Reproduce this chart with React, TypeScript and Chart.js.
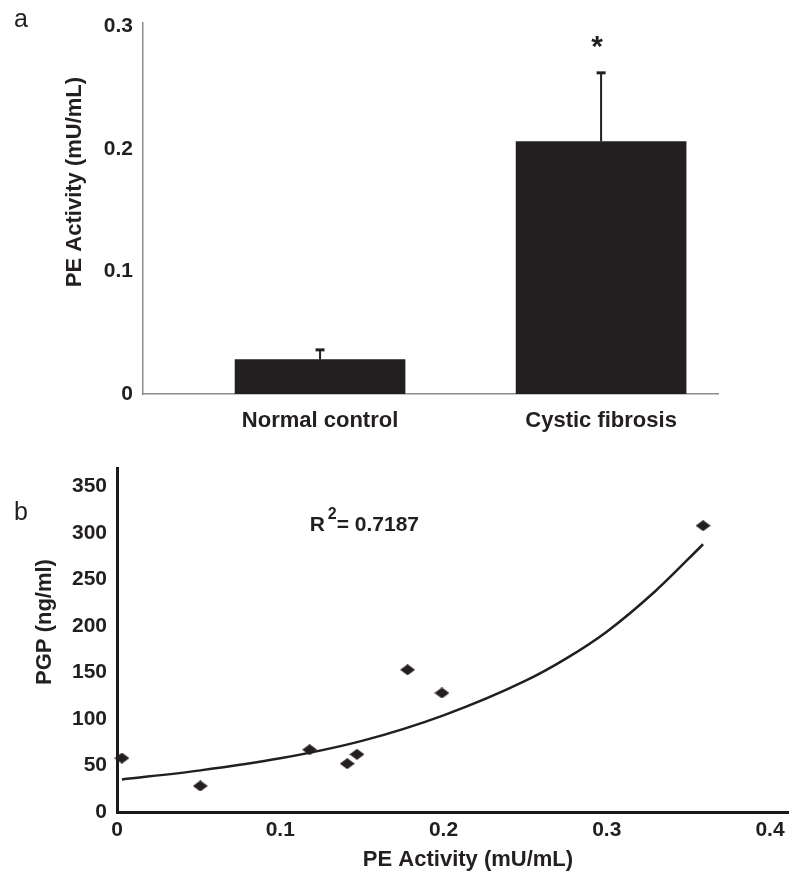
import React, { useEffect, useRef } from "react";
import { Chart, registerables } from "chart.js";

Chart.register(...registerables);

// ---------- Panel a: PE activity by group ----------
const groups = ["Normal control", "Cystic fibrosis"];
const peActivity = [0.028, 0.206];
const peError = [0.008, 0.056];
const significance = ["", "*"];
const yTicksA = [0, 0.1, 0.2, 0.3];

// ---------- Panel b: PGP vs PE activity ----------
const peValues = [0.003, 0.051, 0.118, 0.141, 0.147, 0.178, 0.199, 0.359];
const pgpValues = [58, 28, 67, 52, 62, 153, 128, 308];
const trendPe = [0.003, 0.05, 0.1, 0.15, 0.2, 0.25, 0.275, 0.3, 0.33, 0.359];
const trendPgp = [35, 44.5, 57.7, 76.5, 104, 141, 165, 194, 238, 288];
const rSquared = "0.7187";
const rSquaredAnchor = [0.118, 302.6];
const yTicksB = [0, 50, 100, 150, 200, 250, 300, 350];
const xTicksB = [0, 0.1, 0.2, 0.3, 0.4];

const INK = "#231f20";
const FONT = "'Liberation Sans', Arial, Helvetica, sans-serif";

const freeTextPlugin = {
  id: "freeText",
  afterDraw(chart: any, _args: any, opts: any) {
    const ctx = chart.ctx;
    (opts.items || []).forEach((it: any) => {
      ctx.save();
      ctx.translate(it.x, it.y);
      if (it.rotate) ctx.rotate(it.rotate);
      ctx.font = it.font;
      ctx.fillStyle = INK;
      ctx.textAlign = it.align || "center";
      ctx.textBaseline = it.baseline || "middle";
      ctx.fillText(it.text, 0, 0);
      ctx.restore();
    });
  },
};

const errorBarPlugin = {
  id: "errorBars",
  afterDatasetsDraw(chart: any) {
    const meta = chart.getDatasetMeta(0);
    const y = chart.scales.y;
    const ctx = chart.ctx;
    ctx.save();
    ctx.strokeStyle = INK;
    ctx.fillStyle = INK;
    meta.data.forEach((bar: any, i: number) => {
      const base = y.getPixelForValue(peActivity[i]);
      const top = y.getPixelForValue(peActivity[i] + peError[i]);
      ctx.lineWidth = 2;
      ctx.beginPath();
      ctx.moveTo(bar.x, base);
      ctx.lineTo(bar.x, top);
      ctx.stroke();
      ctx.lineWidth = 3;
      ctx.beginPath();
      ctx.moveTo(bar.x - 4.5, top);
      ctx.lineTo(bar.x + 4.5, top);
      ctx.stroke();
      if (significance[i]) {
        ctx.font = `bold 30px ${FONT}`;
        ctx.textAlign = "center";
        ctx.textBaseline = "alphabetic";
        ctx.fillText(significance[i], bar.x - 4, top - 17);
      }
    });
    ctx.restore();
  },
};

const rSquaredPlugin = {
  id: "rSquared",
  afterDatasetsDraw(chart: any) {
    const ctx = chart.ctx;
    const x0 = chart.scales.x.getPixelForValue(rSquaredAnchor[0]);
    const y0 = chart.scales.y.getPixelForValue(rSquaredAnchor[1]);
    ctx.save();
    ctx.fillStyle = INK;
    ctx.textAlign = "left";
    ctx.textBaseline = "alphabetic";
    ctx.font = `bold 21px ${FONT}`;
    ctx.fillText("R", x0, y0);
    const rW = ctx.measureText("R").width;
    ctx.font = `bold 16px ${FONT}`;
    const supX = x0 + rW + 3;
    ctx.fillText("2", supX, y0 - 12);
    const sW = ctx.measureText("2").width;
    ctx.font = `bold 21px ${FONT}`;
    ctx.fillText("= " + rSquared, supX + sW, y0);
    ctx.restore();
  },
};

function makeDiamond(): HTMLCanvasElement {
  const c = document.createElement("canvas");
  c.width = 15;
  c.height = 11;
  const g = c.getContext("2d")!;
  g.fillStyle = INK;
  g.beginPath();
  g.moveTo(0, 5.5);
  g.lineTo(7.5, 0);
  g.lineTo(15, 5.5);
  g.lineTo(7.5, 11);
  g.closePath();
  g.fill();
  return c;
}

const tickFont = { family: FONT, size: 21, weight: "bold" as const };

export default function App() {
  const refA = useRef<HTMLCanvasElement>(null);
  const refB = useRef<HTMLCanvasElement>(null);

  useEffect(() => {
    const chartA = new Chart(refA.current!, {
      type: "bar",
      data: {
        datasets: [
          {
            data: groups.map((_, i) => ({ x: i + 1, y: peActivity[i] })),
            backgroundColor: INK,
            borderWidth: 0,
            barThickness: 170,
          },
        ],
      },
      options: {
        responsive: false,
        animation: false,
        devicePixelRatio: 1,
        layout: { padding: { left: 0, top: 18, right: 77, bottom: 0 } },
        plugins: {
          legend: { display: false },
          tooltip: { enabled: false },
          freeText: {
            items: [
              { text: "a", x: 14, y: 27, font: `25px ${FONT}`, align: "left", baseline: "alphabetic" },
              { text: "PE Activity (mU/mL)", x: 75, y: 182, rotate: -Math.PI / 2, font: `bold 22px ${FONT}` },
            ],
          },
        } as any,
        scales: {
          x: {
            type: "linear",
            offset: false,
            min: 0.37,
            max: 2.416,
            grid: { display: false, drawTicks: false },
            border: { display: true, color: "#8c8c8c", width: 1.5 },
            ticks: {
              padding: 14,
              color: INK,
              font: { family: FONT, size: 22, weight: "bold" },
              callback: (v: any) => groups[Math.round(Number(v)) - 1] ?? "",
            },
            afterBuildTicks: (s: any) => {
              s.ticks = groups.map((_, i) => ({ value: i + 1 }));
            },
            afterFit: (s: any) => {
              s.height = 46;
            },
          },
          y: {
            min: 0,
            max: 0.303,
            grid: { display: false, drawTicks: false },
            border: { display: true, color: "#8c8c8c", width: 1.5 },
            ticks: {
              padding: 10,
              color: INK,
              font: tickFont,
              callback: (v: any) => String(v),
            },
            afterBuildTicks: (s: any) => {
              s.ticks = yTicksA.map((v) => ({ value: v }));
            },
            afterFit: (s: any) => {
              s.width = 143;
            },
          },
        },
      } as any,
      plugins: [freeTextPlugin, errorBarPlugin],
    });

    const diamond = makeDiamond();
    const chartB = new Chart(refB.current!, {
      type: "scatter",
      data: {
        datasets: [
          {
            data: peValues.map((x, i) => ({ x, y: pgpValues[i] })),
            pointStyle: diamond as any,
            pointRadius: 7,
            backgroundColor: INK,
            borderWidth: 0,
            clip: false as any,
            order: 0,
          },
          {
            data: trendPe.map((x, i) => ({ x, y: trendPgp[i] })),
            showLine: true,
            pointRadius: 0,
            borderColor: INK,
            borderWidth: 2.5,
            fill: false,
            cubicInterpolationMode: "monotone",
            order: 1,
          } as any,
        ],
      },
      options: {
        responsive: false,
        animation: false,
        devicePixelRatio: 1,
        layout: { padding: { left: 0, top: 28, right: 0, bottom: 0 } },
        plugins: {
          legend: { display: false },
          tooltip: { enabled: false },
          freeText: {
            items: [
              { text: "b", x: 14, y: 80, font: `25px ${FONT}`, align: "left", baseline: "alphabetic" },
              { text: "PGP (ng/ml)", x: 45, y: 182, rotate: -Math.PI / 2, font: `bold 22px ${FONT}` },
              { text: "PE Activity (mU/mL)", x: 468, y: 420, font: `bold 22px ${FONT}` },
            ],
          },
        } as any,
        scales: {
          x: {
            type: "linear",
            min: 0,
            max: 0.411,
            grid: { display: false, drawTicks: false },
            border: { display: true, color: "#1a1a1a", width: 3 },
            ticks: {
              padding: 6,
              color: INK,
              font: tickFont,
              callback: (v: any) => String(v),
            },
            afterBuildTicks: (s: any) => {
              s.ticks = xTicksB.map((v) => ({ value: v }));
            },
            afterFit: (s: any) => {
              s.height = 62;
            },
          },
          y: {
            min: 0,
            max: 370,
            grid: { display: false, drawTicks: false },
            border: { display: true, color: "#1a1a1a", width: 3 },
            ticks: {
              padding: 10,
              color: INK,
              font: tickFont,
              callback: (v: any) => String(v),
            },
            afterBuildTicks: (s: any) => {
              s.ticks = yTicksB.map((v) => ({ value: v }));
            },
            afterFit: (s: any) => {
              s.width = 117;
            },
          },
        },
      } as any,
      plugins: [freeTextPlugin, rSquaredPlugin],
    });

    return () => {
      chartA.destroy();
      chartB.destroy();
    };
  }, []);

  return (
    <div style={{ position: "absolute", left: 0, top: 0, width: 795, height: 874, background: "#fff" }}>
      <canvas ref={refA} width={795} height={440} style={{ position: "absolute", left: 0, top: 0 }} />
      <canvas ref={refB} width={795} height={434} style={{ position: "absolute", left: 0, top: 440 }} />
    </div>
  );
}
